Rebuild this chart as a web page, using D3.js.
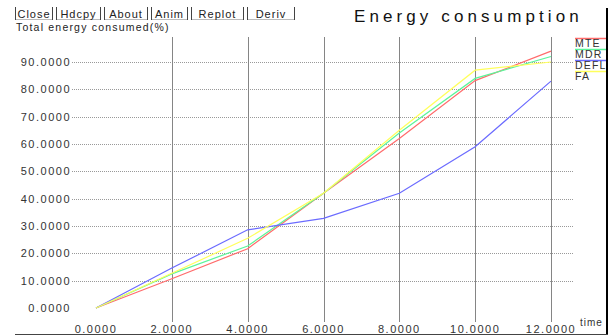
<!DOCTYPE html>
<html>
<head>
<meta charset="utf-8">
<script src="https://cdn.jsdelivr.net/npm/d3@7"></script>
<style>
  body { margin: 0; background: #fff; }
  svg { display: block; font-family: "Liberation Sans", Arial, sans-serif; }
</style>
</head>
<body>
<div id="chart"></div>
<script>
const width = 612, height = 336;

// data
const times = [0, 2, 4, 6, 8, 10, 12];
const mte = [0, 10.7, 21.7, 42, 62, 83.2, 94];
const mdr = [0, 12.5, 22.7, 42, 64, 84, 92];
const defl = [0, 14.6, 28.6, 32.8, 42, 59, 83];
const fa = [0, 12.7, 25.5, 42, 65, 87, 90];
const seriesNames = ['MTE', 'MDR', 'DEFL', 'FA'];
const seriesColors = ['#ff6b6b', '#5cf59a', '#6b6bff', '#ffff5c'];
const yTicks = [0, 10, 20, 30, 40, 50, 60, 70, 80, 90];
const xTicks = [0, 2, 4, 6, 8, 10, 12];
const buttons = ['Close', 'Hdcpy', 'About', 'Anim', 'Replot', 'Deriv'];
const buttonEdges = [[15, 53], [56, 101], [104, 148], [151, 188], [191, 244], [247, 295]];

const series = [mte, mdr, defl, fa];

const x = d3.scaleLinear().domain([0, 12]).range([96, 551]);
const y = d3.scaleLinear().domain([0, 90]).range([308, 62]);
const fmt = d3.format('.4f');

const svg = d3.select('#chart').append('svg')
  .attr('width', width)
  .attr('height', height);

// buttons at the top
const btn = svg.append('g').selectAll('g')
  .data(buttons)
  .enter().append('g');
btn.append('line')
  .attr('x1', (d, i) => buttonEdges[i][0] + 0.5).attr('x2', (d, i) => buttonEdges[i][1] - 0.5)
  .attr('y1', 19.5).attr('y2', 19.5)
  .attr('stroke', '#bbb');
btn.append('line')
  .attr('x1', (d, i) => buttonEdges[i][0] + 0.5).attr('x2', (d, i) => buttonEdges[i][0] + 0.5)
  .attr('y1', 7).attr('y2', 20)
  .attr('stroke', '#444');
btn.append('line')
  .attr('x1', (d, i) => buttonEdges[i][1] - 0.5).attr('x2', (d, i) => buttonEdges[i][1] - 0.5)
  .attr('y1', 7).attr('y2', 20)
  .attr('stroke', '#444');
btn.append('text')
  .attr('x', (d, i) => (buttonEdges[i][0] + buttonEdges[i][1]) / 2)
  .attr('y', 17.5)
  .attr('text-anchor', 'middle')
  .attr('font-size', 11)
  .attr('letter-spacing', 1)
  .attr('fill', '#222')
  .text((d) => d);

// title and y label
svg.append('text')
  .attr('x', 354).attr('y', 22)
  .attr('font-size', 17)
  .attr('letter-spacing', 4.1)
  .attr('fill', '#111')
  .text('Energy consumption');

svg.append('text')
  .attr('x', 16).attr('y', 31)
  .attr('font-size', 10.5)
  .attr('letter-spacing', 1.2)
  .attr('fill', '#222')
  .text('Total energy consumed(%)');

// horizontal dotted grid
svg.append('g').selectAll('line')
  .data(yTicks.filter((d) => d > 0))
  .enter().append('line')
  .attr('x1', 72).attr('x2', 573)
  .attr('y1', (d) => Math.round(y(d)) + 0.5)
  .attr('y2', (d) => Math.round(y(d)) + 0.5)
  .attr('stroke', '#999')
  .attr('stroke-dasharray', '1,1');

// vertical grid
svg.append('g').selectAll('line')
  .data(xTicks.filter((d) => d > 0))
  .enter().append('line')
  .attr('x1', (d) => Math.round(x(d)) + 0.5)
  .attr('x2', (d) => Math.round(x(d)) + 0.5)
  .attr('y1', 37).attr('y2', 322)
  .attr('stroke', '#858585');

// y tick labels
svg.append('g').selectAll('text')
  .data(yTicks)
  .enter().append('text')
  .attr('x', 71)
  .attr('y', (d) => y(d) + 4)
  .attr('text-anchor', 'end')
  .attr('font-size', 11)
  .attr('letter-spacing', 1.5)
  .attr('fill', '#333')
  .text((d) => fmt(d));

// x tick labels
svg.append('g').selectAll('text')
  .data(xTicks)
  .enter().append('text')
  .attr('x', (d) => x(d))
  .attr('y', 333)
  .attr('text-anchor', 'middle')
  .attr('font-size', 11)
  .attr('letter-spacing', 1.5)
  .attr('fill', '#333')
  .text((d) => fmt(d));

svg.append('text')
  .attr('x', 580).attr('y', 326)
  .attr('font-size', 10)
  .attr('letter-spacing', 1)
  .attr('fill', '#333')
  .text('time');

// series lines
const line = d3.line()
  .x((d, i) => x(times[i]))
  .y((d) => y(d));

svg.append('g').selectAll('path')
  .data(series)
  .enter().append('path')
  .attr('d', (d) => line(d))
  .attr('fill', 'none')
  .attr('stroke', (d, i) => seriesColors[i])
  .attr('stroke-width', 1.2);

// legend
const leg = svg.append('g').selectAll('g')
  .data(seriesNames)
  .enter().append('g')
  .attr('transform', (d, i) => `translate(575,${38 + i * 11})`);
leg.append('line')
  .attr('x1', 0).attr('x2', 33)
  .attr('y1', 0.5).attr('y2', 0.5)
  .attr('stroke', (d, i) => seriesColors[i])
  .attr('stroke-width', 1.5);
leg.append('text')
  .attr('x', 0).attr('y', 9)
  .attr('font-size', 10.5)
  .attr('letter-spacing', 1.2)
  .attr('fill', '#333')
  .text((d) => d);

// frame
svg.append('line')
  .attr('x1', 607).attr('x2', 607)
  .attr('y1', 8).attr('y2', 334)
  .attr('stroke', '#000').attr('stroke-width', 2);
svg.append('line')
  .attr('x1', 15).attr('x2', 608)
  .attr('y1', 334.5).attr('y2', 334.5)
  .attr('stroke', '#444');
</script>
</body>
</html>
